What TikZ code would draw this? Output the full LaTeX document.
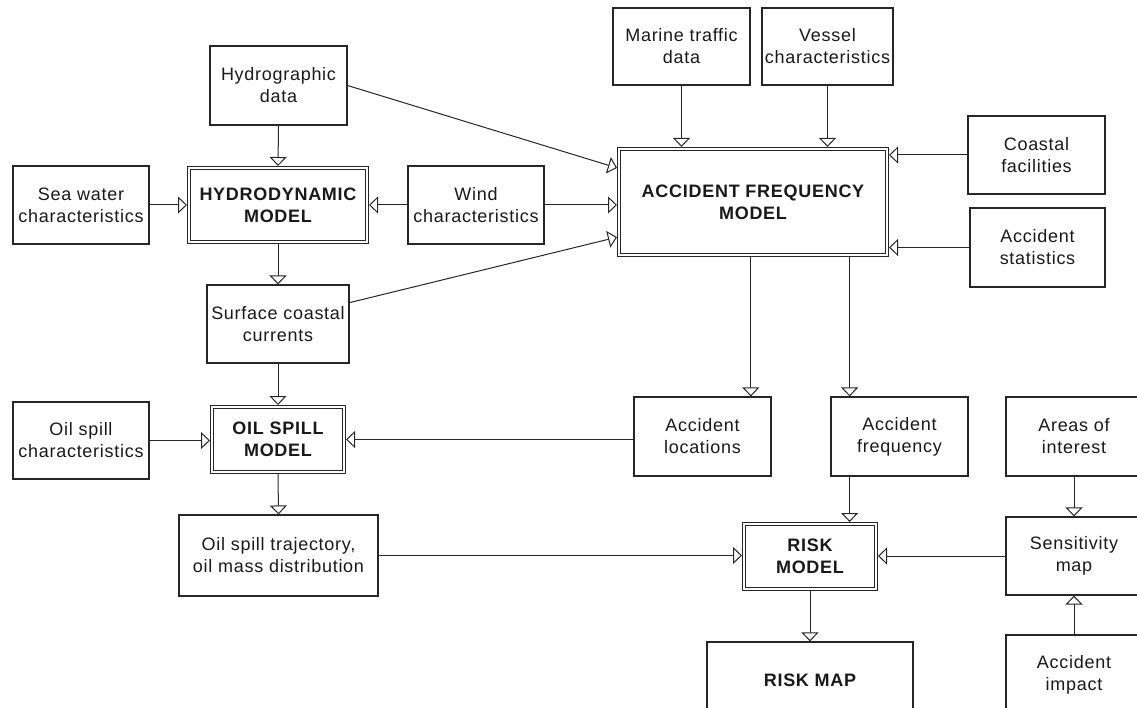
\documentclass[tikz,border=0pt]{standalone}
\usepackage{fontspec}
\setmainfont{Liberation Sans}[LetterSpace=4]
\usetikzlibrary{arrows.meta,calc}
\begin{document}
\begin{tikzpicture}[x=1pt,y=-1pt,
  box/.style={draw=black!85, line width=1.1pt, fill=white, inner sep=0pt, align=center,
    font=\fontsize{18}{22}\selectfont, text=black!90},
  model/.style={box, double=white, double distance=1.8pt, line width=1pt,
    font=\fontsize{18}{22}\selectfont\bfseries, outer sep=2pt},
  arr/.style={draw=black!85, line width=1pt, -{Triangle[open, width=17pt, length=9pt, fill=white]}}]
\useasboundingbox (0,0) rectangle (1137,708);
\clip (0,0) rectangle (1137,708);
% top row
\node[box, minimum width=137pt, minimum height=79pt] (hyd) at (278.5,85.5) {Hydrographic\\data};
\node[box, minimum width=137pt, minimum height=77pt] (mar) at (681.5,46.5) {Marine traffic\\data};
\node[box, minimum width=131pt, minimum height=77pt] (ves) at (827.5,46.5) {Vessel\\characteristics};
\node[box, minimum width=137pt, minimum height=78pt] (coa) at (1036.5,155) {Coastal\\facilities};
\node[model, minimum width=268pt, minimum height=106pt] (afm) at (753,202) {ACCIDENT FREQUENCY\\MODEL};
% hydrodynamic row
\node[box, minimum width=136pt, minimum height=78pt] (sea) at (81,205) {Sea water\\characteristics};
\node[model, minimum width=178pt, minimum height=74pt] (hdm) at (278,205) {HYDRODYNAMIC\\MODEL};
\node[box, minimum width=136pt, minimum height=78pt] (wnd) at (476,205) {Wind\\characteristics};
\node[box, minimum width=135pt, minimum height=79pt] (sta) at (1037.5,247.5) {Accident\\statistics};
\node[box, minimum width=142pt, minimum height=78pt] (sur) at (278,324) {Surface coastal\\currents};
% oil spill row
\node[box, minimum width=136pt, minimum height=77pt] (osc) at (81,440.5) {Oil spill\\characteristics};
\node[model, minimum width=132pt, minimum height=65pt] (osm) at (278,439.5) {OIL SPILL\\MODEL};
\node[box, minimum width=137pt, minimum height=79pt] (loc) at (702.5,436.5) {Accident\\locations};
\node[box, minimum width=137pt, minimum height=79pt] (frq) at (899.5,436.5) {Accident\\frequency};
\node[box, minimum width=136pt, minimum height=79pt] (are) at (1074,436.5) {Areas of\\interest};
% risk row
\node[box, minimum width=199pt, minimum height=81pt] (tra) at (278.5,555.5) {Oil spill trajectory,\\oil mass distribution};
\node[model, minimum width=132pt, minimum height=65pt] (rsk) at (810,556.5) {RISK\\MODEL};
\node[box, minimum width=136pt, minimum height=78pt] (sen) at (1074,556) {Sensitivity\\map};
\node[box, minimum width=206pt, minimum height=76pt, font=\fontsize{18}{22}\selectfont\bfseries] (rmp) at (810,680) {RISK MAP};
\node[box, minimum width=136pt, minimum height=80pt] (imp) at (1074,675) {Accident\\impact};
% helper coordinates on node borders
\coordinate (la) at ($(loc.north west)!0.85!(loc.north east)$);
\coordinate (lb) at ($(frq.north west)!0.139!(frq.north east)$);
% connectors
\draw[arr] (hyd.south) -- (hdm.north);
\draw[arr] (sea.east) -- (hdm.west);
\draw[arr] (wnd.west) -- (hdm.east);
\draw[arr] (hdm.south) -- (sur.north);
\draw[arr] (sur.south) -- (osm.north);
\draw[arr] (osc.east) -- (osm.west |- osc.east);
\draw[arr] (osm.south) -- (tra.north);
\draw[arr] (loc.west |- osm.east) -- (osm.east);
\draw[arr] (tra.east) -- (rsk.west |- tra.east);
\draw[arr] (sen.west) -- (rsk.east |- sen.west);
\draw[arr] (are.south) -- (sen.north);
\draw[arr] (imp.north) -- (sen.south);
\draw[arr] (rsk.south) -- (rmp.north);
\draw[arr] (mar.south) -- (afm.north -| mar.south);
\draw[arr] (ves.south) -- (afm.north -| ves.south);
\draw[arr] (coa.west) -- (afm.east |- coa.west);
\draw[arr] (sta.west) -- (afm.east |- sta.west);
\draw[arr] (wnd.east) -- (afm.west |- wnd.east);
\draw[arr] (hyd.east) -- ($(afm.north west)!0.19!(afm.south west)$);
\draw[arr] ($(sur.north east)!0.23!(sur.south east)$) -- ($(afm.north west)!0.82!(afm.south west)$);
\draw[arr] (afm.south -| la) -- (la);
\draw[arr] (afm.south -| lb) -- (lb);
\draw[arr] (frq.south -| lb) -- (rsk.north -| lb);
\end{tikzpicture}
\end{document}
